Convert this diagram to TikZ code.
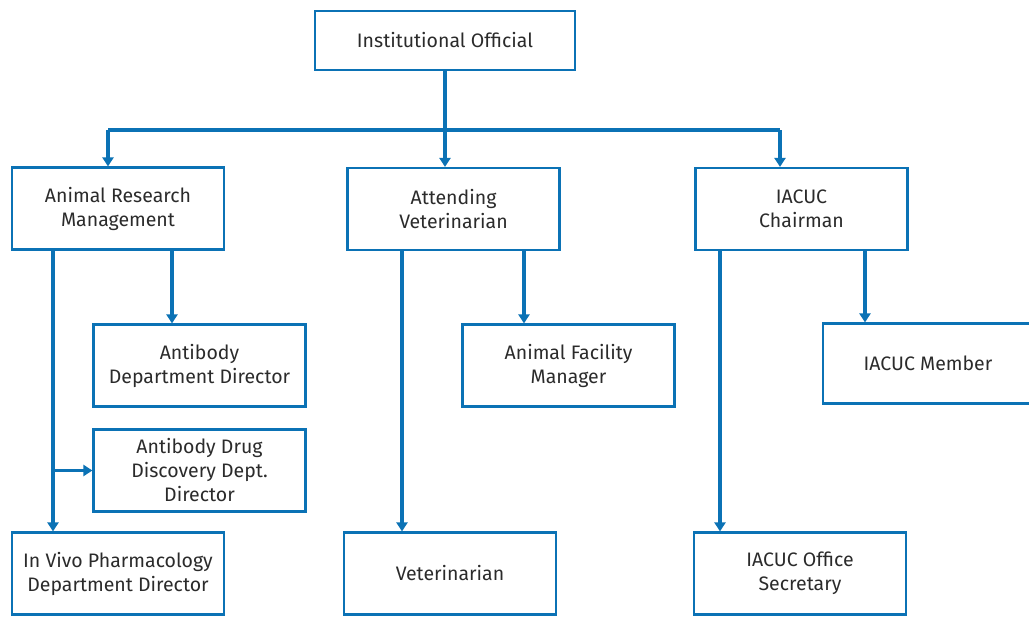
\documentclass[tikz,border=0pt]{standalone}
\usepackage{fontspec}
\setmainfont{Fira Sans}
\usepackage{tikz}
\usetikzlibrary{arrows.meta,positioning,calc}
\definecolor{orgBlue}{HTML}{0B72B5}
\definecolor{orgText}{HTML}{2B2B2B}
\begin{document}
\begin{tikzpicture}[x=1pt,y=-1pt,
  font=\fontsize{19.5}{24}\selectfont,
  post/.style={draw=orgBlue, line width=2.2pt, fill=white, text=orgText, align=center,
    minimum width=212pt, minimum height=82pt, inner sep=0pt},
  link/.style={draw=orgBlue, line width=3.5pt},
  arr/.style={link, -{Triangle[width=11pt,length=9pt]}}]
\clip (0,0) rectangle (1029,618);
\fill[white] (0,0) rectangle (1029,618);
% top
\node[post, minimum width=260pt, minimum height=59pt] (io) at (445,40.5) {Institutional Official};
% second row
\node[post] (arm) at (118,208.5) {Animal Research\\Management};
\node[post] (av) at (453.5,209) {Attending\\Veterinarian};
\node[post] (ich) at (801.5,209) {IACUC\\Chairman};
% third row
\node[post] (abd) at (199.5,365.5) {Antibody\\Department Director};
\node[post] (afm) at (568.5,365.5) {Animal Facility\\Manager};
\node[post, minimum width=210pt, minimum height=80pt] (imem) at (928,363.5) {IACUC Member};
\node[post] (addd) at (199.5,470.5) {Antibody Drug\\Discovery Dept.\\Director};
% bottom row
\node[post] (ivp) at (118,573.5) {In Vivo Pharmacology\\Department Director};
\node[post] (vet) at (450,573.5) {Veterinarian};
\node[post] (sec) at (800,573.5) {IACUC Office\\Secretary};
% bus
\coordinate (busL) at (108,130);
\coordinate (busR) at (780,130);
\draw[link] (io.south) -- (io.south |- busL);
\draw[link, line width=4.5pt] (busL) -- (busR);
\draw[arr] (busL) -- (busL |- arm.north);
\draw[arr] (io.south |- busL) -- (io.south |- av.north);
\draw[arr] (busR) -- (busR |- ich.north);
% animal research
\coordinate (armL) at (53,0);
\coordinate (armR) at (172,0);
\draw[arr] (armL |- arm.south) -- (armL |- ivp.north);
\draw[arr] (armR |- arm.south) -- (armR |- abd.north);
\draw[arr] (armL |- addd.west) -- (addd.west);
% attending vet
\coordinate (avL) at (402,0);
\coordinate (avR) at (524,0);
\draw[arr] (avL |- av.south) -- (avL |- vet.north);
\draw[arr] (avR |- av.south) -- (avR |- afm.north);
% iacuc
\coordinate (ichL) at (720,0);
\coordinate (ichR) at (865,0);
\draw[arr] (ichL |- ich.south) -- (ichL |- sec.north);
\draw[arr] (ichR |- ich.south) -- (ichR |- imem.north);
\end{tikzpicture}
\end{document}
